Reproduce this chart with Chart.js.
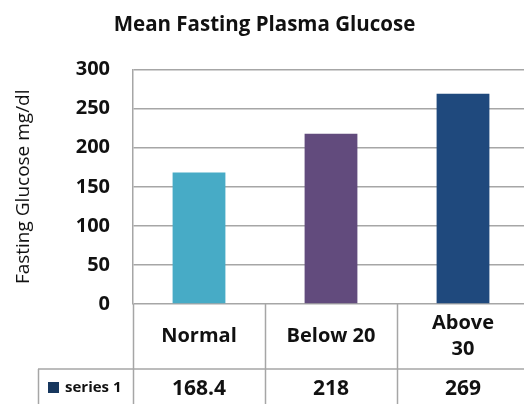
<!DOCTYPE html>
<html lang="en">
<head>
    <meta charset="UTF-8">
    <title>Mean Fasting Plasma Glucose</title>
    <script src="https://cdn.jsdelivr.net/npm/chart.js"></script>
    <style>
        body {
            margin: 0;
            padding: 0;
            background: #fff;
            overflow: hidden;
        }
        .wrap {
            width: 524px;
            height: 404px;
            overflow: hidden;
            position: relative;
        }
        canvas {
            display: block;
        }
    </style>
</head>
<body>

<div class="wrap">
    <canvas id="glucoseChart" width="540" height="404"></canvas>
</div>

<script>
    // chart data
    const categories = ['Normal', 'Below 20', 'Above 30'];
    const categoryLines = [['Normal'], ['Below 20'], ['Above', '30']]; // wrapped like the table cells
    const seriesName = 'series 1';
    const glucoseValues = [168.4, 218, 269];
    const barColors = ['#47abc6', '#624b7d', '#1f497d'];
    const yTicks = [0, 50, 100, 150, 200, 250, 300];

    const FONT = "'Open Sans', sans-serif";
    const LINE = '#a6a6a6';

    // draws the data table under the plot (category row + values row)
    const dataTable = {
        id: 'dataTable',
        afterDraw(chart) {
            const ctx = chart.ctx;
            const area = chart.chartArea;
            const x = chart.scales.x;
            const top = area.bottom;
            const rowSplit = top + 65;
            const bottom = chart.height;
            const right = chart.width;
            const n = categories.length;
            const step = (area.right - area.left) / n;

            ctx.save();
            ctx.strokeStyle = LINE;
            ctx.lineWidth = 1.5;
            ctx.beginPath();
            // column separators
            for (let i = 0; i <= n; i++) {
                const bx = Math.round(area.left + i * step) + 0.5;
                ctx.moveTo(bx, top);
                ctx.lineTo(bx, bottom);
            }
            // row separator + legend cell
            ctx.moveTo(38, rowSplit);
            ctx.lineTo(right, rowSplit);
            ctx.moveTo(38.5, rowSplit);
            ctx.lineTo(38.5, bottom);
            ctx.stroke();

            ctx.fillStyle = '#111';
            ctx.textAlign = 'center';
            ctx.textBaseline = 'middle';
            ctx.font = 'bold 20px ' + FONT;
            categoryLines.forEach((lines, i) => {
                const cx = x.getPixelForValue(i);
                const cy = (top + rowSplit) / 2;
                const lh = 26;
                lines.forEach((t, j) => {
                    ctx.fillText(t, cx, cy + (j - (lines.length - 1) / 2) * lh);
                });
            });

            ctx.font = 'bold 21px ' + FONT;
            glucoseValues.forEach((v, i) => {
                ctx.fillText(String(v), x.getPixelForValue(i), rowSplit + 20);
            });

            // legend key
            ctx.fillStyle = '#17375e';
            ctx.fillRect(48, rowSplit + 13, 11, 11);
            ctx.fillStyle = '#111';
            ctx.textAlign = 'left';
            ctx.font = 'bold 15px ' + FONT;
            ctx.fillText(seriesName, 65, rowSplit + 19);
            ctx.restore();
        }
    };

    new Chart(document.getElementById('glucoseChart'), {
        type: 'bar',
        data: {
            labels: categories,
            datasets: [{
                label: seriesName,
                data: glucoseValues,
                backgroundColor: barColors,
                borderWidth: 0,
                barPercentage: 0.4,
                categoryPercentage: 1
            }]
        },
        options: {
            responsive: false,
            animation: false,
            devicePixelRatio: 1,
            layout: {
                padding: { top: 0, left: 0, right: 11, bottom: 100 }
            },
            scales: {
                x: {
                    display: false
                },
                y: {
                    min: 0,
                    max: 300,
                    afterFit(scale) { scale.width = 133; },
                    afterBuildTicks(scale) {
                        scale.ticks = yTicks.map(v => ({ value: v }));
                    },
                    ticks: {
                        color: '#111',
                        padding: 23,
                        font: { family: FONT, size: 20, weight: 'bold' }
                    },
                    grid: {
                        color: LINE,
                        lineWidth: 1.5,
                        drawTicks: false
                    },
                    border: { display: true, color: LINE, width: 1.5 },
                    title: {
                        display: true,
                        text: 'Fasting Glucose mg/dl',
                        color: '#111',
                        padding: { top: 12, bottom: 0 },
                        font: { family: FONT, size: 19, weight: '500' }
                    }
                }
            },
            plugins: {
                legend: { display: false },
                tooltip: { enabled: false },
                title: {
                    display: true,
                    text: 'Mean Fasting Plasma Glucose',
                    color: '#111',
                    padding: { top: 13, bottom: 32 },
                    font: { family: FONT, size: 20.5, weight: 'bold' }
                }
            }
        },
        plugins: [dataTable]
    });
</script>

</body>
</html>
